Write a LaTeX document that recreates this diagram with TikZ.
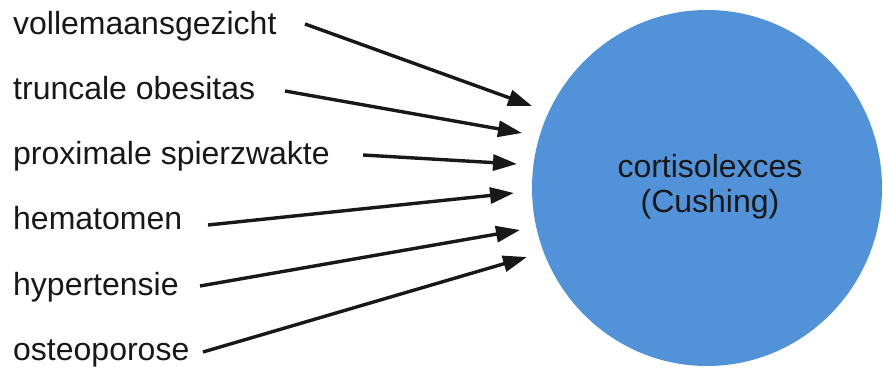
\documentclass[tikz,border=0pt]{standalone}
\usepackage{fontspec}
\setmainfont{Liberation Sans}
\usetikzlibrary{arrows.meta,shapes.geometric}
\definecolor{blob}{RGB}{82,146,216}
\definecolor{ink}{RGB}{24,24,24}
\tikzset{
  sym/.style={anchor=base west, inner sep=0pt, font=\fontsize{32}{38}\selectfont, text=ink},
  ctr/.style={anchor=base, inner sep=0pt, font=\fontsize{32}{38}\selectfont, text=ink},
  feed/.style={line width=3.4pt, draw=ink, -{Triangle[length=24pt,width=16pt]}},
}
\begin{document}
\begin{tikzpicture}[x=1pt,y=-1pt]
\useasboundingbox (0,0) rectangle (883,371);
\node[ellipse, fill=blob, minimum width=350pt, minimum height=356pt, inner sep=0pt] (blobnode) at (707,188) {};
\node[ctr] (c1) at (710,178) {cortisolexces};
\node[ctr] (c2) at (710,213) {(Cushing)};

\node[sym] (s1) at (13,35) {vollemaansgezicht};
\node[sym] (s2) at (13,100) {truncale obesitas};
\node[sym] (s3) at (13,165) {proximale spierzwakte};
\node[sym] (s4) at (13,230) {hematomen};
\node[sym] (s5) at (13,295) {hypertensie};
\node[sym] (s6) at (13,360) {osteoporose};

\coordinate (a1) at (305,24);  \coordinate (b1) at (532,106);
\coordinate (a2) at (285,91);  \coordinate (b2) at (522,133);
\coordinate (a3) at (363,155); \coordinate (b3) at (517,164);
\coordinate (a4) at (208,225); \coordinate (b4) at (514,193);
\coordinate (a5) at (200,286); \coordinate (b5) at (520,230);
\coordinate (a6) at (203,352); \coordinate (b6) at (527,257);

\foreach \i in {1,...,6} { \draw[feed] (a\i) -- (b\i); }
\end{tikzpicture}
\end{document}
